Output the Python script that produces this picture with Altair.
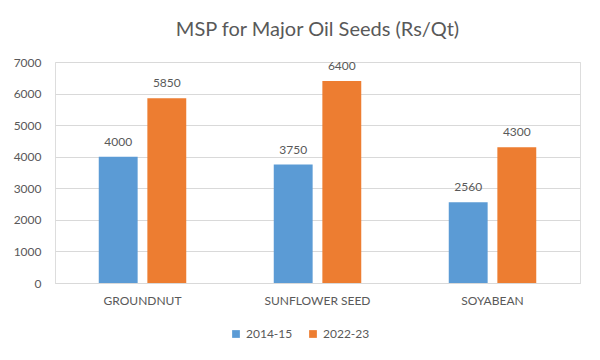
import altair as alt
import pandas as pd

crops = ["GROUNDNUT", "SUNFLOWER SEED", "SOYABEAN"]
years = ["2014-15", "2022-23"]
msp_2014 = [4000, 3750, 2560]
msp_2022 = [5850, 6400, 4300]

rows = []
for c, a, b in zip(crops, msp_2014, msp_2022):
    rows.append({"crop": c, "year": years[0], "msp": a})
    rows.append({"crop": c, "year": years[1], "msp": b})
df = pd.DataFrame(rows)

FONT = "Lato"
GREY = "#595959"

x = alt.X("crop:N", sort=crops, title=None,
          scale=alt.Scale(paddingInner=0.5, paddingOuter=0.25),
          axis=alt.Axis(labelAngle=0, labelFontSize=12, labelColor=GREY, labelFont=FONT,
                        ticks=False, domainColor="#D9D9D9", labelPadding=12))
xo = alt.XOffset("year:N", sort=years, scale=alt.Scale(paddingInner=0.2))
y = alt.Y("msp:Q", title=None,
          scale=alt.Scale(domain=[0, 7000]),
          axis=alt.Axis(values=list(range(0, 7001, 1000)), format="d", labelFontSize=12,
                        labelColor=GREY, labelFont=FONT, ticks=False, domain=False,
                        gridColor="#D9D9D9", labelPadding=14))
color = alt.Color("year:N", sort=years,
                  scale=alt.Scale(domain=years, range=["#5B9BD5", "#ED7D31"]),
                  legend=alt.Legend(title=None, orient="none", direction="horizontal",
                                    legendX=175, legendY=266,
                                    labelFontSize=12, labelColor=GREY, labelFont=FONT,
                                    symbolType="square", symbolSize=60, columnPadding=14))

bars = alt.Chart(df).mark_bar().encode(x=x, xOffset=xo, y=y, color=color)
labels = alt.Chart(df).mark_text(dy=-15, fontSize=12, color=GREY, font=FONT).encode(
    x=x, xOffset=xo, y=y, text=alt.Text("msp:Q", format="d"))

chart = (bars + labels).properties(
    width=525, height=221,
    title=alt.Title("MSP for Major Oil Seeds (Rs/Qt)", fontSize=20, font=FONT,
                    color=GREY, fontWeight="normal", anchor="middle", offset=16),
    padding={"left": 5, "top": 12, "right": 8, "bottom": 5},
).configure_view(stroke=None).configure(background="white")

chart.save("out.html", embed_options={"renderer": "svg", "actions": False})
